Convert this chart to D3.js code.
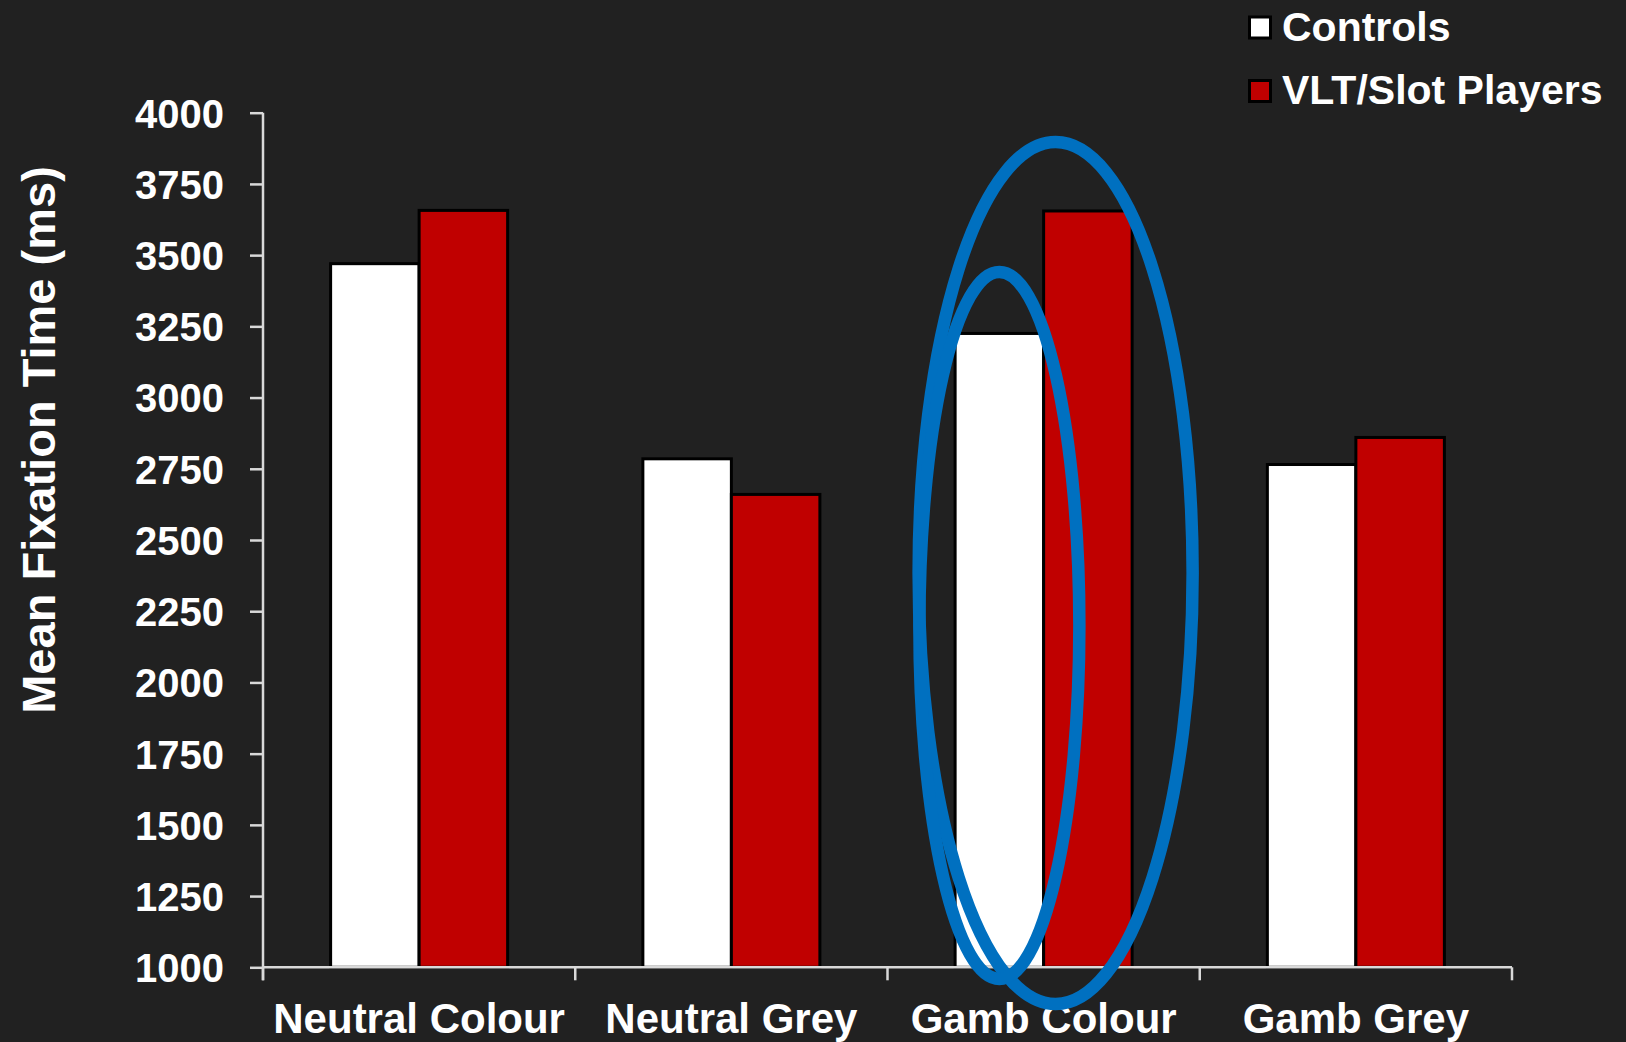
<!DOCTYPE html>
<html>
<head>
<meta charset="utf-8">
<title>Mean Fixation Time</title>
<script src="https://d3js.org/d3.v7.min.js"></script>
<style>
    body {
        margin: 0;
        padding: 0;
        background-color: #212121;
    }
    svg text {
        font-family: "Liberation Sans", Arial, sans-serif;
        font-weight: bold;
        fill: white;
    }
</style>
</head>
<body>
<svg id="chart" width="1626" height="1042"></svg>
<script>
    // data
    var categories = ["Neutral Colour", "Neutral Grey", "Gamb Colour", "Gamb Grey"];
    var seriesNames = ["Controls", "VLT/Slot Players"];
    var controls = [3470, 2785, 3225, 2765];
    var players = [3657, 2660, 3655, 2860];
    var yTicks = [1000, 1250, 1500, 1750, 2000, 2250, 2500, 2750, 3000, 3250, 3500, 3750, 4000];
    var colors = ["#ffffff", "#c00000"];

    var width = 1626, height = 1042;
    var plotLeft = 263, plotRight = 1512, plotTop = 112.7, plotBottom = 967.3;

    var svg = d3.select("#chart");
    svg.append("rect").attr("width", width).attr("height", height).attr("fill", "#212121");

    var x0 = d3.scaleBand().domain(categories).range([plotLeft, plotRight]).padding(0);
    var x1 = d3.scaleBand().domain(seriesNames).range([0, x0.bandwidth()])
        .paddingInner(0).paddingOuter(0.764);
    var y = d3.scaleLinear().domain([1000, 4000]).range([plotBottom, plotTop]);

    var rows = categories.map(function(c, i) {
        return {cat: c, values: [controls[i], players[i]]};
    });

    // bars
    var groups = svg.selectAll("g.group").data(rows).enter().append("g")
        .attr("class", "group")
        .attr("transform", function(d) { return "translate(" + x0(d.cat) + ",0)"; });

    groups.selectAll("rect").data(function(d) {
        return d.values.map(function(v, j) { return {s: seriesNames[j], v: v, j: j}; });
    }).enter().append("rect")
        .attr("x", function(d) { return x1(d.s); })
        .attr("y", function(d) { return y(d.v); })
        .attr("width", x1.bandwidth())
        .attr("height", function(d) { return y(1000) - y(d.v); })
        .attr("fill", function(d) { return colors[d.j]; })
        .attr("stroke", "#000")
        .attr("stroke-width", 3);

    // y axis
    var yAxis = svg.append("g")
        .attr("transform", "translate(" + plotLeft + ",0)")
        .call(d3.axisLeft(y).tickValues(yTicks).tickFormat(d3.format("d")).tickSize(13).tickPadding(26));
    yAxis.select(".domain").remove();
    yAxis.selectAll(".tick line").attr("stroke", "#d9d9d9").attr("stroke-width", 2.5);
    yAxis.selectAll(".tick text").style("font-size", "40px").attr("dy", "0.36em");

    // x axis
    var xAxis = svg.append("g")
        .attr("transform", "translate(0," + plotBottom + ")")
        .call(d3.axisBottom(x0).tickSize(0).tickPadding(0));
    xAxis.select(".domain").remove();
    xAxis.selectAll(".tick text").style("font-size", "42px").attr("y", 66).attr("dy", 0);

    var bounds = categories.map(function(c) { return x0(c); }).concat([plotRight]);
    svg.selectAll("line.xtick").data(bounds).enter().append("line")
        .attr("class", "xtick")
        .attr("x1", function(d) { return d; }).attr("x2", function(d) { return d; })
        .attr("y1", plotBottom).attr("y2", plotBottom + 13)
        .attr("stroke", "#d9d9d9").attr("stroke-width", 2.5);

    svg.append("line")
        .attr("x1", plotLeft).attr("x2", plotLeft)
        .attr("y1", y(4000)).attr("y2", plotBottom + 13)
        .attr("stroke", "#d9d9d9").attr("stroke-width", 2.5);
    svg.append("line")
        .attr("x1", plotLeft).attr("x2", plotRight)
        .attr("y1", plotBottom).attr("y2", plotBottom)
        .attr("stroke", "#d9d9d9").attr("stroke-width", 2.5);

    // y title
    svg.append("text")
        .attr("transform", "translate(55," + 440 + ") rotate(-90)")
        .attr("text-anchor", "middle")
        .style("font-size", "47px")
        .text("Mean Fixation Time (ms)");

    // highlight ellipses around Gamb Colour
    var hc = "Gamb Colour";
    var ctrlCenter = x0(hc) + x1("Controls") + x1.bandwidth() / 2;
    var groupCenter = x0(hc) + x0.bandwidth() / 2;
    var ell = svg.append("g").attr("fill", "none").attr("stroke", "#0070c0").attr("stroke-width", 12.5);
    ell.append("ellipse")
        .attr("cx", groupCenter + 12)
        .attr("cy", (y(3897) + y(871)) / 2)
        .attr("rx", 137)
        .attr("ry", (y(871) - y(3897)) / 2);
    ell.append("ellipse")
        .attr("cx", ctrlCenter)
        .attr("cy", (y(3441) + y(959)) / 2)
        .attr("rx", 80)
        .attr("ry", (y(959) - y(3441)) / 2);

    // legend
    var legend = svg.append("g").attr("transform", "translate(1248,0)");
    var items = legend.selectAll("g").data(seriesNames).enter().append("g")
        .attr("transform", function(d, i) { return "translate(0," + (17 + i * 63.5) + ")"; });
    items.append("rect")
        .attr("x", 1.5).attr("y", 0)
        .attr("width", 21).attr("height", 21)
        .attr("fill", function(d, i) { return colors[i]; })
        .attr("stroke", "#000").attr("stroke-width", 3);
    items.append("text")
        .attr("x", 34).attr("y", 23.5)
        .style("font-size", "41px")
        .text(function(d) { return d; });
</script>
</body>
</html>
